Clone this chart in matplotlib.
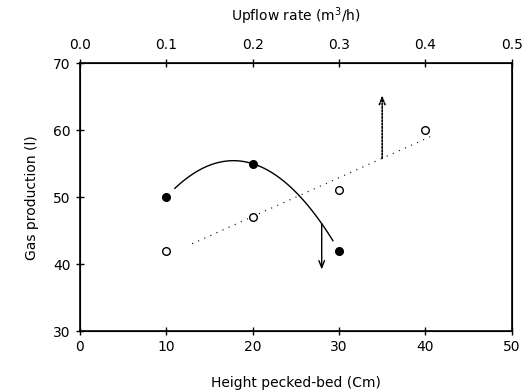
import numpy as np
import matplotlib
matplotlib.use("Agg")
import matplotlib.pyplot as plt

# filled points (solid curve)
x_fill = np.array([10, 20, 30])
y_fill = np.array([50, 55, 42])

# open points (dotted trend line)
x_open = np.array([10, 20, 30, 40])
y_open = np.array([42, 47, 51, 60])

upflow_ticks = [0.0, 0.1, 0.2, 0.3, 0.4, 0.5]

fig = plt.figure(figsize=(5.32, 3.90), dpi=100)
ax = fig.add_axes([0.150, 0.151, 0.812, 0.687])

# quadratic through the filled points
c2 = np.polyfit(x_fill, y_fill, 2)
xs = np.linspace(11, 29.3, 100)
ax.plot(xs, np.polyval(c2, xs), color="black", lw=1.0)

# linear fit through the open points
c1 = np.polyfit(x_open, y_open, 1)
xl = np.linspace(13, 41, 50)
ax.plot(xl, np.polyval(c1, xl), color="black", lw=0.8, ls=(0, (1, 5)))

ax.plot(x_fill, y_fill, "o", color="black", ms=5.5)
ax.plot(x_open, y_open, "o", mfc="white", mec="black", mew=1.0, ms=5.5)

# arrows
ax.annotate("", xy=(28, 39.2), xytext=(28, np.polyval(c2, 28)),
            arrowprops=dict(arrowstyle="->,head_length=0.5,head_width=0.2",
                            lw=1.0, color="black", shrinkA=0, shrinkB=0))
ax.annotate("", xy=(35, 65.2), xytext=(35, 55.8),
            arrowprops=dict(arrowstyle="->,head_length=0.5,head_width=0.2",
                            lw=1.2, color="black", ls=(0, (1, 1)),
                            shrinkA=0, shrinkB=0))

ax.set_xlim(0, 50)
ax.set_ylim(30, 70)
ax.set_xticks([0, 10, 20, 30, 40, 50])
ax.set_yticks([30, 40, 50, 60, 70])
ax.tick_params(direction="inout", length=6, width=1, labelsize=10)
ax.set_xlabel("Height pecked-bed (Cm)", fontsize=10, labelpad=16)
ax.set_ylabel("Gas production (l)", fontsize=10, labelpad=10)
for s in ax.spines.values():
    s.set_linewidth(1.2)

ax2 = ax.twiny()
ax2.set_xlim(0, 0.5)
ax2.set_xticks(upflow_ticks)
ax2.set_xticklabels(["%.1f" % t for t in upflow_ticks])
ax2.tick_params(direction="inout", length=6, width=1, labelsize=10, pad=5)
ax2.set_xlabel("Upflow rate (m$^3$/h)", fontsize=10, labelpad=12)

fig.savefig("out.png", dpi=100)
